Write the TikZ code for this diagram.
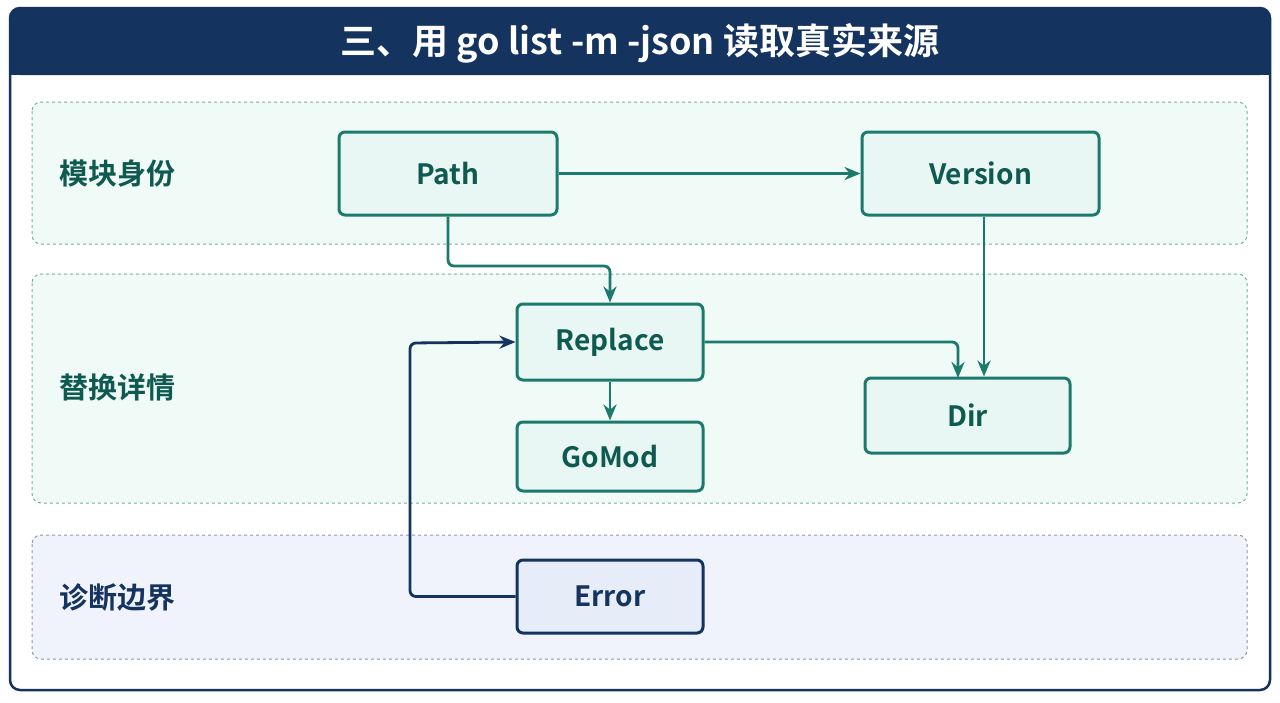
\documentclass[tikz,border=0pt]{standalone}
\usepackage{fontspec}
\setmainfont{Noto Sans CJK SC}[BoldFont={Noto Sans CJK SC Bold}]
\usetikzlibrary{arrows.meta}
\definecolor{navy}{HTML}{14335F}
\definecolor{teal}{HTML}{1B7A6C}
\definecolor{tealtxt}{HTML}{0F5A50}
\definecolor{tfill}{HTML}{E8F7F3}
\definecolor{bandg}{HTML}{F0FAF7}
\definecolor{bandb}{HTML}{F1F3FC}
\definecolor{efill}{HTML}{E6ECF8}
\begin{document}
\begin{tikzpicture}[x=1pt,y=-1pt,
 box/.style={draw=teal,line width=3pt,fill=tfill,rounded corners=6pt,text=tealtxt,font=\bfseries\fontsize{28}{32}\selectfont},
 band/.style={dashed,rounded corners=9pt,line width=1pt},
 lab/.style={font=\bfseries\fontsize{29}{32}\selectfont,anchor=west},
 arr/.style={draw=teal,line width=2.8pt,-{Stealth[length=16pt,width=13pt]},rounded corners=6pt}]
\useasboundingbox (0,0) rectangle (1280,702);
\fill[white] (0,0) rectangle (1280,702);
\draw[navy,line width=2.5pt,fill=white,rounded corners=10pt] (10,8) rectangle (1270,690);
\fill[navy,rounded corners=10pt] (10,8) rectangle (1270,75);
\fill[navy] (10,50) rectangle (1270,75);
\node[text=white,font=\bfseries\fontsize{36}{40}\selectfont] (title) at (640,43) {三、用 go list -m -json 读取真实来源};
\draw[band,draw=teal!60,fill=bandg] (32,102) rectangle (1247,244);
\draw[band,draw=teal!60,fill=bandg] (32,274) rectangle (1247,503);
\draw[band,draw=navy!50,fill=bandb] (32,535) rectangle (1247,659);
\node[lab,text=tealtxt] (l1) at (56,174) {模块身份};
\node[lab,text=tealtxt] (l2) at (56,387) {替换详情};
\node[lab,text=navy] (l3) at (56,598) {诊断边界};
\node[box,minimum width=218pt,minimum height=83pt] (path) at (448,173.5) {Path};
\node[box,minimum width=237pt,minimum height=83pt] (ver) at (980.5,173.5) {Version};
\node[box,minimum width=186pt,minimum height=76pt] (rep) at (610,342) {Replace};
\node[box,minimum width=186pt,minimum height=69pt] (gomod) at (610,456.5) {GoMod};
\node[box,minimum width=205pt,minimum height=75pt] (dir) at (967.5,415.5) {Dir};
\node[box,draw=navy,fill=efill,text=navy,minimum width=186pt,minimum height=73pt] (err) at (610,596.5) {Error};
\draw[arr] (path.east) -- (ver.west);
\draw[arr] (path.south) -- (448,266) -| (rep.north);
\draw[arr] (ver.south -| 984,0) -- (dir.north -| 984,0);
\draw[arr] (rep.east) -| (958,378);
\draw[arr] (rep.south) -- (gomod.north);
\draw[arr,draw=navy] (err.west) -| (410,343) -- (rep.west);
\end{tikzpicture}
\end{document}
